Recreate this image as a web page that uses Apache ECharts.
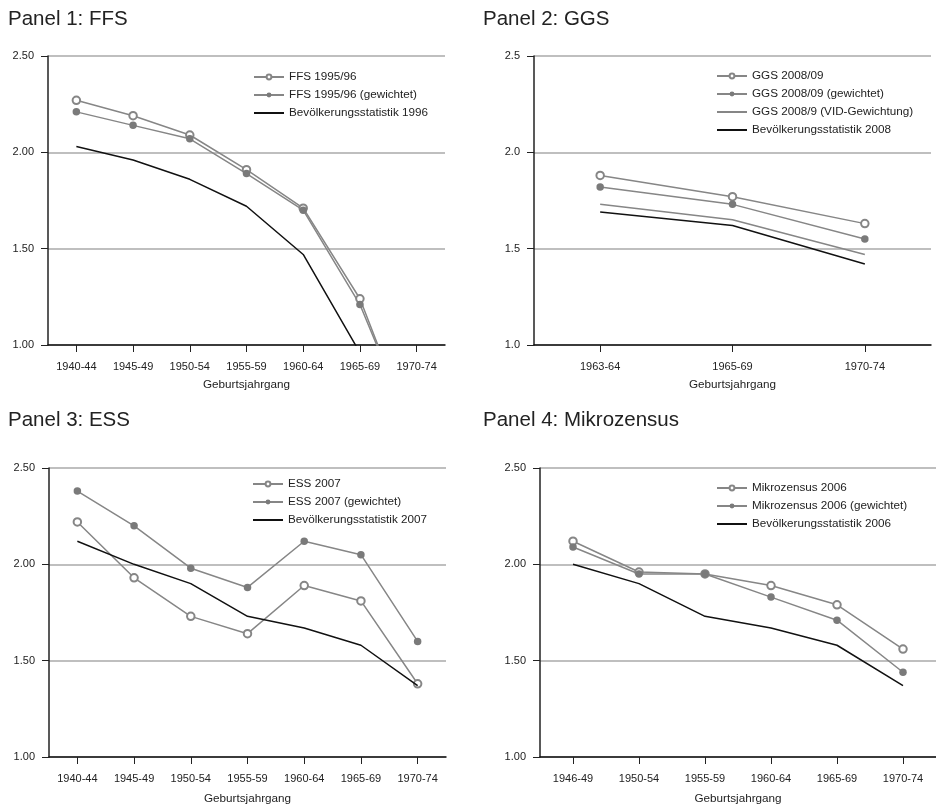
<!DOCTYPE html>
<html>
<head>
<meta charset="utf-8">
<script src="https://cdn.jsdelivr.net/npm/echarts@6/dist/echarts.min.js"></script>
<style>
html,body{margin:0;padding:0;background:#fff;}
#chart{width:936px;height:809px;}
</style>
</head>
<body>
<div id="chart"></div>
<script>
// ---- Data ----
const titles = ['Panel 1: FFS', 'Panel 2: GGS', 'Panel 3: ESS', 'Panel 4: Mikrozensus'];
const xName = 'Geburtsjahrgang';

const p1Cats = ['1940-44','1945-49','1950-54','1955-59','1960-64','1965-69','1970-74'];
const p1Ffs  = [2.27, 2.19, 2.09, 1.91, 1.71, 1.24, 0.48];
const p1FfsW = [2.21, 2.14, 2.07, 1.89, 1.70, 1.21, 0.50];
const p1Bev  = [2.03, 1.96, 1.86, 1.72, 1.47, 0.96, null];

const p2Cats = ['1963-64','1965-69','1970-74'];
const p2Ggs  = [1.88, 1.77, 1.63];
const p2GgsW = [1.82, 1.73, 1.55];
const p2Vid  = [1.73, 1.65, 1.47];
const p2Bev  = [1.69, 1.62, 1.42];

const p3Cats = ['1940-44','1945-49','1950-54','1955-59','1960-64','1965-69','1970-74'];
const p3Ess  = [2.22, 1.93, 1.73, 1.64, 1.89, 1.81, 1.38];
const p3EssW = [2.38, 2.20, 1.98, 1.88, 2.12, 2.05, 1.60];
const p3Bev  = [2.12, 2.00, 1.90, 1.73, 1.67, 1.58, 1.37];

const p4Cats = ['1946-49','1950-54','1955-59','1960-64','1965-69','1970-74'];
const p4Mz   = [2.12, 1.96, 1.95, 1.89, 1.79, 1.56];
const p4MzW  = [2.09, 1.95, 1.95, 1.83, 1.71, 1.44];
const p4Bev  = [2.00, 1.90, 1.73, 1.67, 1.58, 1.37];

const yTicks2 = ['1.00','1.50','2.00','2.50'];
const yTicks1 = ['1.0','1.5','2.0','2.5'];

// ---- Styling helpers ----
const FONT = "'Liberation Sans', Arial, sans-serif";
const GRAY = '#868686';
const MARK = '#7a7a7a';
const BLACK = '#111';

const grids = [
  {left: 48,  top: 56,  width: 397, height: 289},
  {left: 534, top: 56,  width: 397, height: 289},
  {left: 49,  top: 468, width: 397, height: 289},
  {left: 540, top: 468, width: 396, height: 289}
];
const cats = [p1Cats, p2Cats, p3Cats, p4Cats];
const tickSets = [yTicks2, yTicks1, yTicks2, yTicks2];
const nameGaps = [34, 34, 36, 36];

function mk(name, data, gi, kind) {
  const s = {
    name: name, type: 'line', data: data,
    xAxisIndex: gi, yAxisIndex: gi,
    clip: true, animation: false, connectNulls: false,
    emphasis: {disabled: true},
    z: kind === 'black' ? 3 : 2
  };
  if (kind === 'open') {
    s.symbol = 'emptyCircle'; s.symbolSize = 7.5;
    s.lineStyle = {color: GRAY, width: 1.5};
    s.itemStyle = {color: GRAY, borderWidth: 1};
  } else if (kind === 'filled') {
    s.symbol = 'circle'; s.symbolSize = 7.5;
    s.lineStyle = {color: GRAY, width: 1.5};
    s.itemStyle = {color: MARK, borderWidth: 0};
  } else if (kind === 'gray') {
    s.symbol = 'none';
    s.lineStyle = {color: GRAY, width: 1.5};
    s.itemStyle = {color: GRAY};
  } else {
    s.symbol = 'none';
    s.lineStyle = {color: BLACK, width: 1.5};
    s.itemStyle = {color: BLACK};
  }
  return s;
}

const panels = [
  [['FFS 1995/96', p1Ffs, 'open'], ['FFS 1995/96 (gewichtet)', p1FfsW, 'filled'], ['Bevölkerungsstatistik 1996', p1Bev, 'black']],
  [['GGS 2008/09', p2Ggs, 'open'], ['GGS 2008/09 (gewichtet)', p2GgsW, 'filled'], ['GGS 2008/9 (VID-Gewichtung)', p2Vid, 'gray'], ['Bevölkerungsstatistik 2008', p2Bev, 'black']],
  [['ESS 2007', p3Ess, 'open'], ['ESS 2007 (gewichtet)', p3EssW, 'filled'], ['Bevölkerungsstatistik 2007', p3Bev, 'black']],
  [['Mikrozensus 2006', p4Mz, 'open'], ['Mikrozensus 2006 (gewichtet)', p4MzW, 'filled'], ['Bevölkerungsstatistik 2006', p4Bev, 'black']]
];

const legendPos = [
  {left: 253, top: 71},
  {left: 716, top: 70},
  {left: 252, top: 478},
  {left: 716, top: 482}
];
const titlePos = [
  {left: 8, top: 9},
  {left: 483, top: 9},
  {left: 8, top: 410},
  {left: 483, top: 410}
];

const series = [];
const legends = [];
panels.forEach((p, gi) => {
  p.forEach(d => series.push(mk(d[0], d[1], gi, d[2])));
  legends.push({
    left: legendPos[gi].left, top: legendPos[gi].top, padding: 0,
    orient: 'vertical', itemWidth: 30, itemHeight: 6, itemGap: 6,
    selectedMode: false,
    textStyle: {fontFamily: FONT, fontSize: 11.7, color: '#222'},
    data: p.map(d => {
      if (d[2] === 'gray' || d[2] === 'black') {
        return {name: d[0], itemStyle: {color: 'rgba(0,0,0,0)', borderWidth: 0, opacity: 0}};
      }
      return {name: d[0]};
    })
  });
});

const option = {
  backgroundColor: '#fff',
  animation: false,
  textStyle: {fontFamily: FONT},
  title: titles.map((t, i) => ({
    text: t, left: titlePos[i].left, top: titlePos[i].top, padding: 0,
    textStyle: {fontFamily: FONT, fontSize: 20.5, fontWeight: 'normal', color: '#222'}
  })),
  legend: legends,
  grid: grids.map(g => Object.assign({containLabel: false}, g)),
  xAxis: cats.map((c, i) => ({
    type: 'category', gridIndex: i, data: c, boundaryGap: true,
    name: xName, nameLocation: 'middle', nameGap: nameGaps[i],
    nameTextStyle: {fontFamily: FONT, fontSize: 11.7, color: '#222'},
    axisLine: {show: true, lineStyle: {color: BLACK, width: 1.5}},
    axisTick: {show: true, alignWithLabel: true, length: 7, lineStyle: {color: '#222', width: 1}},
    axisLabel: {fontFamily: FONT, fontSize: 11, color: '#222', margin: 16, interval: 0},
    splitLine: {show: false}
  })),
  yAxis: tickSets.map((ts, i) => ({
    type: 'value', gridIndex: i, min: 1, max: 2.5, interval: 0.5,
    axisLine: {show: true, lineStyle: {color: '#222', width: 1.5}},
    axisTick: {show: true, length: 7, lineStyle: {color: '#222', width: 1}},
    axisLabel: {fontFamily: FONT, fontSize: 11, color: '#222', margin: 14,
      formatter: v => ts[Math.round((v - 1) / 0.5)]},
    splitLine: {show: true, lineStyle: {color: '#aaa', width: 1.5}}
  })),
  series: series
};

const chart = echarts.init(document.getElementById('chart'), null, {renderer: 'canvas'});
chart.setOption(option);
</script>
</body>
</html>
